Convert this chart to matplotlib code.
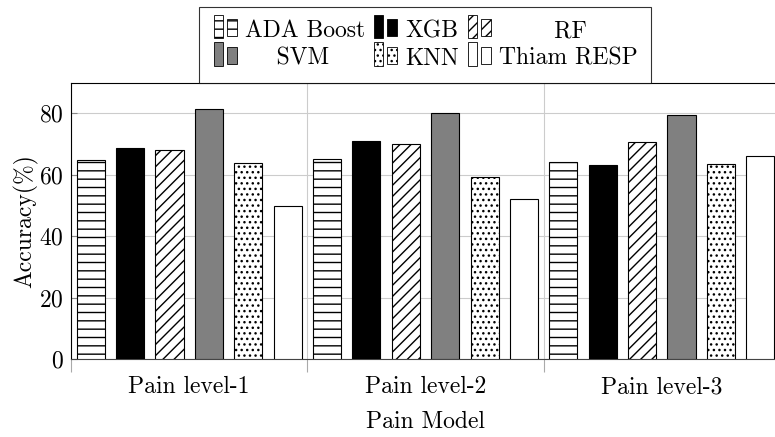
import numpy as np
import matplotlib
matplotlib.use("Agg")
from matplotlib import pyplot as plt
from matplotlib.patches import Rectangle
from matplotlib.legend_handler import HandlerBase

plt.rcParams['font.family'] = ['cmr10', 'DejaVu Serif']
plt.rcParams['axes.formatter.use_mathtext'] = True
plt.rcParams['mathtext.fontset'] = 'cm'
plt.rcParams['hatch.linewidth'] = 1.0

groups = ['Pain level-1', 'Pain level-2', 'Pain level-3']
models = ['ADA Boost', 'XGB', 'RF', 'SVM', 'KNN', 'Thiam RESP']
# legend labels, short ones padded so they sit centred like in pgfplots
legend_labels = ['ADA Boost', 'XGB', '       RF', '    SVM', 'KNN', 'Thiam RESP']

ada = [65.0, 65.2, 64.1]
xgb = [68.8, 71.0, 63.3]
rf = [68.1, 70.2, 70.6]
svm = [81.4, 80.3, 79.5]
knn = [63.8, 59.4, 63.5]
thiam = [50.0, 52.0, 66.0]

yticks = [0, 20, 40, 60, 80]

# fill colour and hatch per model
styles = [('white', '--'), ('black', ''), ('white', '///'),
          ('#808080', ''), ('white', '...'), ('white', '')]


class TwoBarHandler(HandlerBase):
  # pgfplots style legend image: two small bars
  def create_artists(self, legend, orig, xd, yd, w, h, fontsize, trans):
    fc = orig.get_facecolor()
    hatch = orig.get_hatch()
    r1 = Rectangle((xd + 0.05 * w, yd - 0.1 * h), 0.35 * w, 1.3 * h,
                   facecolor=fc, edgecolor='black', hatch=hatch,
                   linewidth=0.6, transform=trans)
    r2 = Rectangle((xd + 0.55 * w, yd), 0.4 * w, 0.95 * h,
                   facecolor=fc, edgecolor='black', hatch=hatch,
                   linewidth=0.6, transform=trans)
    return [r1, r2]


fig = plt.figure(figsize=(7.75, 4.37), dpi=100)
ax = fig.add_axes([71 / 775, 77.7 / 437, 709 / 775, 276.6 / 437])

x = np.arange(len(groups))
step = 0.1667
width = 0.119
series = [ada, xgb, rf, svm, knn, thiam]
bars = []
for i, (vals, (fc, hatch)) in enumerate(zip(series, styles)):
  b = ax.bar(x + (i - 2.5) * step, vals, width, color=fc, hatch=hatch,
             edgecolor='black', linewidth=0.8, label=models[i], zorder=3)
  bars.append(b)

ax.set_xlim(-0.5, 2.5)
ax.set_ylim(0, 90)
ax.set_yticks(yticks)
ax.set_xticks(x)
ax.set_xticklabels(groups)
ax.set_xticks([-0.5, 0.5, 1.5, 2.5], minor=True)

ax.tick_params(axis='x', which='major', length=0, pad=12, labelsize=17)
ax.tick_params(axis='x', which='minor', direction='out', length=9,
               color='#aaaaaa', width=0.8)
ax.tick_params(axis='y', which='major', direction='in', length=4,
               color='#888888', labelsize=17, pad=5)

ax.grid(True, axis='y', which='major', color='#cccccc', linewidth=0.8, zorder=0)
ax.grid(True, axis='x', which='minor', color='#cccccc', linewidth=0.8, zorder=0)
ax.set_axisbelow(True)

ax.spines['right'].set_visible(False)
ax.spines['bottom'].set_color('#444444')

ax.set_xlabel('Pain Model', fontsize=17, labelpad=9)
ax.set_ylabel('Accuracy(%)', fontsize=17, labelpad=1)

# row-major order for a 3-column legend
handles = [b.patches[0] for b in bars]
order = [0, 3, 1, 4, 2, 5]
leg = ax.legend([handles[k] for k in order], [legend_labels[k] for k in order],
                ncol=3, loc='lower center', bbox_to_anchor=(0.4995, 1.0),
                borderaxespad=0, fontsize=17, frameon=True, fancybox=False,
                edgecolor='black', handlelength=1.1, handleheight=0.8,
                handletextpad=0.3, columnspacing=0.3, labelspacing=0.22,
                borderpad=0.55, handler_map={Rectangle: TwoBarHandler()})
leg.get_frame().set_linewidth(0.8)

fig.savefig('out.png', dpi=100)
